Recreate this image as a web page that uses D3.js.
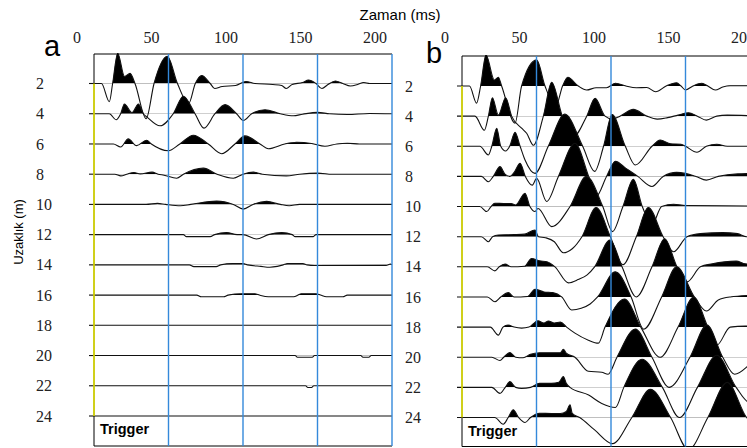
<!DOCTYPE html>
<html><head><meta charset="utf-8">
<script src="https://cdn.jsdelivr.net/npm/d3@7"></script>
<style>body{margin:0;background:#fff}svg{display:block}</style>
</head><body>
<svg id="chart" width="747" height="448"></svg>
<script>
// ---------- data ----------
const distances = [2,4,6,8,10,12,14,16,18,20,22,24];   // Uzaklık (m)
const timeTicks = [0,50,100,150,200];                  // Zaman (ms)
const gridTimes = [50,100,150,200];
const triggerTime = 0;

// panel a traces: [time ms, amplitude]
const a02 = [[0,0],[5,0],[10.3,-18],[12.5,0],[15.9,30],[20.5,7],[24.2,10],[27.5,0],[35,-35],[40.3,0],[49.2,27],[56,0],[63.5,-20],[68,0],[72.3,8],[78,0],[81,-5],[86,-3],[95,-2],[102,2],[108,0],[120,-1],[126,-2],[129,-5],[133,-1],[140,1],[144,3.5],[149,0],[153,-5],[157,-1],[162,2.5],[167,0],[172,-2.5],[177,-1],[181,1],[185,0],[200,0]];
const a04 = [[0,0],[10.3,0],[14.8,-6],[17.9,0],[20.4,9.7],[25.5,1],[29.8,9.7],[33.1,0],[35.6,-3.3],[44.3,-12],[53.2,0],[60,17.3],[67.8,0],[73.8,-14.3],[81.2,0],[88,9],[95.7,0],[100.2,-6.7],[105.8,0],[114.8,4],[125,0],[133.8,-2],[140,-0.5],[150,1.3],[158,0],[170,-0.7],[185,0.3],[200,0]];
const a06 = [[0,0],[13,0],[17.9,-3],[23,5],[28.6,-1.7],[35.3,3.7],[38.5,0],[49.9,-6.7],[57.6,0],[66.7,8.7],[76.7,0],[85.7,-9.7],[94.6,0],[101.3,8],[111.4,0],[117,-4.7],[128,0],[136,1.7],[146,0.5],[155,-2.3],[163,0],[170,0.7],[178,0],[200,0]];
const a08 = [[0,0],[14,0],[18,-1.7],[22,0],[26.8,1.7],[31,0.3],[39,2],[43,0],[47,-1],[55.5,-4],[60,0],[73.4,6],[82.6,0],[93.5,-4],[100,0],[107,2],[113,0],[129,-1.7],[138,0],[150,1],[160,0],[200,0]];
const a10 = [[0,0],[35,0],[42.6,1],[48,0],[58,-1.3],[65,0],[82.3,3.3],[93.5,0],[100.2,-4.7],[106.7,0],[115.9,3],[125,0],[131,-1.3],[138,0],[200,0]];
const a12 = [[0,0],[60,0],[62,-2],[78,-2],[81,0],[89,2],[96,0],[100,0],[109,-4.3],[117,0],[126,2],[133,0],[135,-2],[147,-2],[149,0],[200,0]];
const a14 = [[0,0],[64,0],[67,-1.7],[82,-1.7],[85,0],[93,1.3],[100,1.3],[103,0],[112,-1.5],[118,-2.3],[123,-1.5],[127,0],[130,1.3],[140,1.3],[143,0],[148,-0.7],[196,-0.5],[199,0.8],[200,0]];
const a16 = [[0,0],[69,0],[72,-1.7],[87,-1.7],[90,0],[99,1.3],[108,1.3],[111,0],[117,-1.7],[134,-1.7],[137,0],[139,1.3],[149,1.3],[152,0],[156,-1.7],[167,-1.7],[170,0],[200,0]];
const a18 = [[0,0],[200,0]];
const a20 = [[0,0],[135,0],[136.5,-1.7],[146.5,-1.7],[148,0],[179,0],[180.5,-1.7],[184.5,-1.7],[186,0],[200,0]];
const a22 = [[0,0],[142,0],[143.5,-1.7],[146,-1.7],[147.5,0],[200,0]];
const a24 = [[0,0],[200,0]];

// panel b traces
const b02 = [[0,0],[5,0],[9.8,-17],[12.5,0],[16.1,31],[21.7,6],[24.4,8.7],[26.6,0],[35.6,-37],[40,0],[50.1,26],[55.7,0],[63,-20],[67.5,0],[71,8.7],[78,0],[83.7,-4],[90,-1.7],[97,-1.7],[103,2.7],[110,0],[117,-1.7],[124,-1.5],[130,-5.7],[137,0],[144,3.3],[147,0],[150,-4],[155,0],[161,2.7],[165,0],[170,-4],[175,-1],[180,0.3],[200,0]];
const b04 = [[0,0],[8.7,0],[15,-14],[17.7,0],[20.4,18.3],[24.4,1],[29.3,18.3],[33.3,0],[40,-12],[43.4,-17],[47.9,-29],[54.6,0],[60.2,33.7],[67.3,0],[75,-20],[83.7,0],[89.3,17.7],[96,0],[101,-3],[106,0],[115,6.7],[124,0],[131,-3],[138,-1.5],[145,1],[152,3.3],[158,0],[164,-4],[171,0],[178,1],[200,0]];
const b06 = [[0,0],[12,0],[17.7,-8.7],[20,0],[23.3,18],[26,0],[29.3,-4.7],[32,0],[35.6,14],[39,0],[42.3,-13.7],[49,-27],[57.9,0],[69,32],[81,0],[89,-25],[95,0],[100.7,31.7],[109.6,0],[116.3,-18.7],[127.5,0],[133,6.3],[140,2.5],[147,2],[150,0],[157.7,-6],[164,0],[171,2],[178,0],[200,0]];
const b08 = [[0,0],[13,0],[17.7,-5.3],[21,0],[25.5,9.7],[29,2],[32.2,0],[35,4],[39,13],[42.5,0],[47.2,-8.7],[50.1,-2],[56.8,-25],[64.7,0],[75.8,33],[85,0],[90,-20],[97,0],[103,15],[110,8],[118,0],[127.5,-10],[135,0],[144,4],[150,3],[157,0],[164,-3.7],[172,0],[185,2.5],[200,3]];
const b10 = [[0,0],[12,0],[16.6,-5],[19.5,0],[22,3.3],[28,3],[33,3],[36,1.5],[42.3,13.3],[45.6,0],[49,-5],[51,-2],[60.2,-20],[72.5,0],[83.5,30],[94.5,0],[101,-25],[108,0],[115,27],[121,0],[127.5,-18],[134,0],[142,2.3],[150,1],[200,0.5]];
const b12 = [[0,0],[13,0],[17.7,-5],[20.5,0],[24.4,1.7],[35,2],[42,2.5],[49,6.7],[51.3,0],[56,-1],[62,-5],[68,-16],[74,-12],[80.5,0],[90,29],[99.6,0],[108,-28],[117,0],[125,29],[135,0],[142,-15],[151,0],[160,3],[175,4],[185,3],[191,0],[200,0]];
const b14 = [[0,0],[17,0],[22.1,-4],[25,0],[28.9,2.7],[33,0],[42,0.5],[46.7,8.3],[52,6],[57,5],[62.4,0],[71.4,-16],[78,-12.7],[84,-8],[89,0],[99.3,26.7],[107.4,0],[117,-30],[127.5,0],[136,28],[144.3,0],[151,-15],[160,0],[168,3],[184,5.7],[190,3],[200,2]];
const b16 = [[0,0],[17,0],[22.1,-4.7],[26,0],[31.1,4.3],[35,0],[44,0.5],[49,7.7],[55,5],[61,4.3],[66.9,0],[73.6,-13],[80,-11.3],[86,-7],[91,0],[102.9,25],[113.5,0],[122,-32],[134,0],[144,30],[156,0],[164,-14],[172,-3],[180,0],[200,2]];
const b18 = [[0,0],[19,0],[24.4,-8],[27.5,0],[31,2],[35,0],[40,-1],[45,0],[51,6.3],[55,4],[58,6],[62,4],[66,5],[70.2,0],[75.8,-6],[84.8,-13],[91.5,-16],[96,0],[109,28],[120,0],[133,-30],[145,0],[155.5,30],[165,0],[171,-18],[180,0],[190,1],[200,1]];
const b20 = [[0,0],[20,0],[25.5,-3.3],[28,0],[32.2,4.7],[36,0],[41,-0.5],[46,3],[52,4.5],[60,4.5],[66,4.5],[68,8],[70,4],[75.8,0],[84.8,-14],[93.8,-15],[98,-17],[104,0],[116.3,28],[127.5,0],[139,-30],[153,0],[164.4,32],[175,0],[183,-17],[195,-5],[200,0]];
const b22 = [[0,0],[20,0],[25.5,-6],[29,0],[32.2,5.7],[36,0],[40,-1],[46,0],[52,4],[60,4],[65,5],[68,10.7],[70,4],[72.5,0],[85,-7.7],[93.8,-16],[103,-20],[108.6,0],[120.8,28],[134.5,0],[146,-30],[158,0],[171,32],[184,0],[193,-15],[200,-8]];
const b24 = [[0,0],[22,0],[27.7,-6.7],[31,0],[34.4,7.7],[38,0],[42.3,-5],[46,0],[52,4.3],[60,4],[66,4],[70,6],[72.5,12.7],[74,4],[79,0],[89,-12.3],[101,-26],[114,0],[126.4,28],[140,0],[152,-32],[165,0],[178,35],[191,0],[200,-10]];

const tracesA = [a02,a04,a06,a08,a10,a12,a14,a16,a18,a20,a22,a24];
const tracesB = [b02,b04,b06,b08,b10,b12,b14,b16,b18,b20,b22,b24];

// ---------- drawing ----------
const svg = d3.select("#chart");
const defs = svg.append("defs");
const SANS = "'Liberation Sans', Arial, sans-serif";
const SERIF = "'Liberation Serif', 'Times New Roman', serif";
const BLUE = "#3489da", YELLOW = "#e4e400";

const panels = [
  {id:"a", traces:tracesA, x0:94, x1:392, top:54, bottom:446, yFirst:83.5, yLast:416,
   letterX:44, letterY:56, labelX:36, trigY:434},
  {id:"b", traces:tracesB, x0:462, x1:760, top:56, bottom:446.5, yFirst:86, yLast:417.5,
   letterX:426, letterY:63, labelX:405, trigY:436}
];

panels.forEach(p => {
  const x = d3.scaleLinear().domain([0,200]).range([p.x0,p.x1]);
  const y = d3.scaleLinear().domain([2,24]).range([p.yFirst,p.yLast]);
  const spacing = (p.yLast - p.yFirst) / 11;
  const amp = d3.scaleLinear().domain([0,30]).range([0,-spacing]);

  // top time axis (labels sit left of their grid lines)
  const ax = svg.append("g").attr("transform",`translate(-17.5,43)`)
    .call(d3.axisTop(x).tickValues(timeTicks).tickSize(0).tickPadding(0));
  ax.select(".domain").remove();
  ax.selectAll("text").attr("font-family",SERIF).attr("font-size",16).attr("fill","#222");

  // distance labels
  const ay = svg.append("g").attr("transform",`translate(${p.labelX},0)`)
    .call(d3.axisRight(y).tickValues(distances).tickSize(0).tickPadding(0));
  ay.select(".domain").remove();
  ay.selectAll("text").attr("font-family",SERIF).attr("font-size",16).attr("fill","#222");

  // panel letter
  svg.append("text").attr("x",p.letterX).attr("y",p.letterY).text(p.id)
    .attr("font-family",SANS).attr("font-size",29).attr("fill","#000");

  // clip for the traces
  defs.append("clipPath").attr("id","clip-"+p.id).append("rect")
    .attr("x",p.x0-6).attr("y",p.top-1).attr("width",p.x1-p.x0+6).attr("height",p.bottom-p.top+1);
  const tg = svg.append("g").attr("clip-path",`url(#clip-${p.id})`);

  p.traces.forEach((tr,i) => {
    const yb = y(distances[i]);
    const cid = `pos-${p.id}-${i}`;
    defs.append("clipPath").attr("id",cid).append("rect")
      .attr("x",p.x0-10).attr("y",0).attr("width",p.x1-p.x0+20).attr("height",yb);
    const area = d3.area().x(v=>x(v[0])).y0(yb).y1(v=>yb+amp(v[1])).curve(d3.curveMonotoneX);
    const line = d3.line().x(v=>x(v[0])).y(v=>yb+amp(v[1])).curve(d3.curveMonotoneX);
    tg.append("path").attr("d",area(tr)).attr("fill","#000").attr("clip-path",`url(#${cid})`);
    tg.append("line").attr("x1",p.x0-5).attr("x2",x(tr[0][0])).attr("y1",yb).attr("y2",yb)
      .attr("stroke","#111").attr("stroke-width",1.1);
    tg.append("path").attr("d",line(tr)).attr("fill","none").attr("stroke","#111").attr("stroke-width",1.1);
  });

  // frame
  svg.append("path")
    .attr("d",`M${p.x1},${p.top}H${p.x0}V${p.bottom}H${p.x1}`)
    .attr("fill","none").attr("stroke","#000").attr("stroke-width",1);

  // grid lines
  svg.append("g").selectAll("line").data(gridTimes).join("line")
    .attr("x1",d=>x(d)).attr("x2",d=>x(d)).attr("y1",p.top).attr("y2",p.bottom)
    .attr("stroke",BLUE).attr("stroke-width",1.4);

  // trigger line
  svg.append("line").attr("x1",x(triggerTime)).attr("x2",x(triggerTime))
    .attr("y1",y(distances[0])).attr("y2",y(distances[distances.length-1]))
    .attr("stroke",YELLOW).attr("stroke-width",1.6);

  svg.append("text").attr("x",p.x0+6).attr("y",p.trigY).text("Trigger")
    .attr("font-family",SANS).attr("font-weight","bold").attr("font-size",14.5).attr("fill","#000");
});

svg.append("text").attr("x",400).attr("y",20).attr("text-anchor","middle").text("Zaman (ms)")
  .attr("font-family",SANS).attr("font-size",15).attr("fill","#000");
svg.append("text").attr("transform","translate(23,232) rotate(-90)").attr("text-anchor","middle")
  .text("Uzaklık (m)").attr("font-family",SANS).attr("font-size",13).attr("fill","#000");
</script>
</body></html>
